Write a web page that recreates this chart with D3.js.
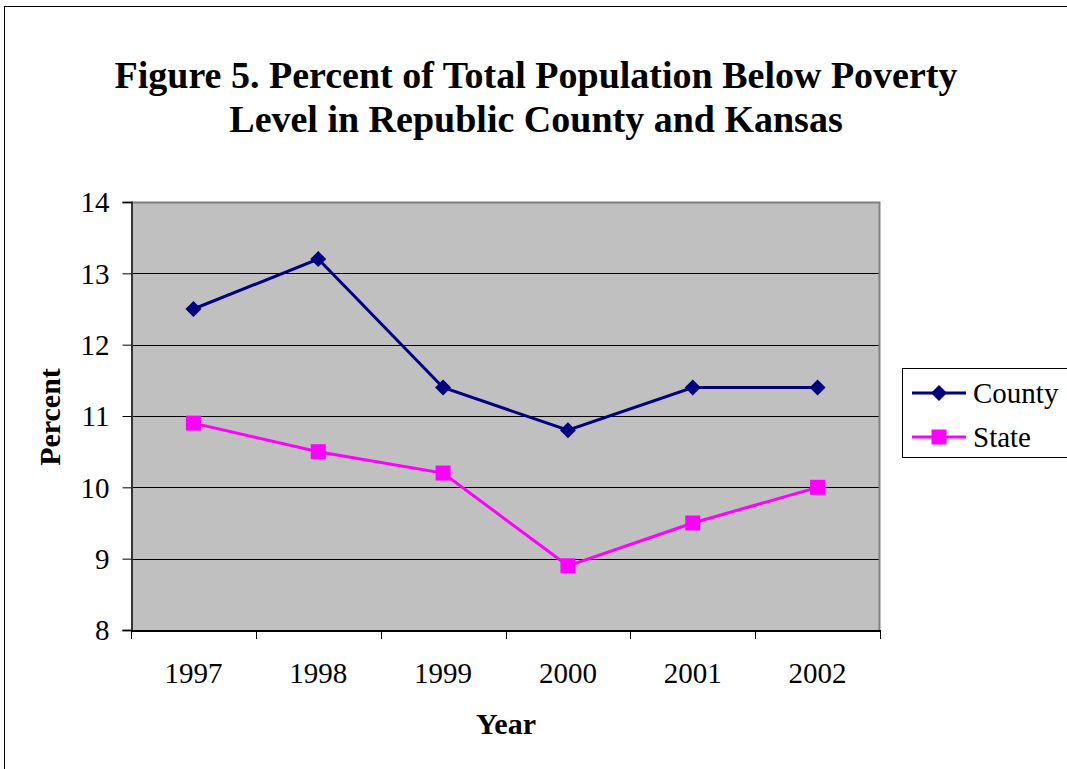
<!DOCTYPE html>
<html><head><meta charset="utf-8">
<script src="https://cdn.jsdelivr.net/npm/d3@7/dist/d3.min.js"></script>
<style>body{margin:0;background:#fff}svg{display:block}</style>
</head><body>
<svg id="c" width="1067" height="769"></svg>
<script>
const years = ["1997","1998","1999","2000","2001","2002"];
const county = [12.5, 13.2, 11.4, 10.8, 11.4, 11.4];
const state = [10.9, 10.5, 10.2, 8.9, 9.5, 10.0];
const yTicks = [8, 9, 10, 11, 12, 13, 14];
const titleLines = ["Figure 5. Percent of Total Population Below Poverty", "Level in Republic County and Kansas"];
const seriesNames = ["County", "State"];

const svg = d3.select("#c");
const font = "'Liberation Serif','Times New Roman',serif";
const L = 131, R = 880, T = 202, B = 630;

svg.append("rect").attr("x",4.5).attr("y",6.5).attr("width",1100).attr("height",800)
  .attr("fill","#fff").attr("stroke","#000").attr("stroke-width",1);

const x = d3.scaleBand().domain(years).range([L, R]);
const y = d3.scaleLinear().domain([8, 14]).range([B, T]);

svg.append("rect").attr("x",L).attr("y",T).attr("width",R-L).attr("height",B-T).attr("fill","#c0c0c0");

// gridlines
svg.append("g").selectAll("line").data(yTicks.filter(d=>d>8 && d<14)).join("line")
  .attr("x1",L).attr("x2",R).attr("y1",d=>Math.round(y(d))+0.5).attr("y2",d=>Math.round(y(d))+0.5)
  .attr("stroke","#000").attr("stroke-width",1);

// plot border (top & right gray)
svg.append("path").attr("d",`M${L},${T+0.5}H${R-0.5}V${B}`).attr("fill","none").attr("stroke","#808080").attr("stroke-width",2);

// y axis
const yAxis = d3.axisLeft(y).tickValues(yTicks).tickFormat(d3.format("d")).tickSize(9).tickPadding(13);
const gy = svg.append("g").attr("transform",`translate(${L+0.5},0)`).call(yAxis);
gy.attr("font-family",font).attr("font-size",29);
gy.select(".domain").attr("stroke","#333").attr("stroke-width",2);
gy.selectAll(".tick line").attr("stroke","#000");
gy.selectAll(".tick text").attr("fill","#000").attr("dy","0.34em");

// x axis
const xAxis = d3.axisBottom(x).tickSize(0).tickPadding(32);
const gx = svg.append("g").attr("transform",`translate(0,${B+0.5})`).call(xAxis);
gx.attr("font-family",font).attr("font-size",29);
gx.select(".domain").attr("stroke","#000").attr("stroke-width",2);
gx.selectAll(".tick text").attr("fill","#000");
const bounds = years.map(d=>x(d)).concat([R]);
svg.append("g").selectAll("line").data(bounds).join("line")
  .attr("x1",d=>Math.round(d)+0.5).attr("x2",d=>Math.round(d)+0.5).attr("y1",B).attr("y2",B+9)
  .attr("stroke","#000").attr("stroke-width",1);

// lines
const cx = d => x(d) + x.bandwidth()/2;
const line = d3.line().x((d,i)=>cx(years[i])).y(d=>y(d));
svg.append("path").datum(county).attr("d",line).attr("fill","none").attr("stroke","#000080").attr("stroke-width",3);
svg.append("path").datum(state).attr("d",line).attr("fill","none").attr("stroke","#ff00ff").attr("stroke-width",3);

const diamond = (px,py,s) => `M${px},${py-s}L${px+s},${py}L${px},${py+s}L${px-s},${py}Z`;
svg.append("g").selectAll("path").data(county).join("path")
  .attr("d",(d,i)=>diamond(cx(years[i]), y(d), 8)).attr("fill","#000080");
svg.append("g").selectAll("rect").data(state).join("rect")
  .attr("x",(d,i)=>cx(years[i])-7.5).attr("y",d=>y(d)-7.5).attr("width",15).attr("height",15).attr("fill","#ff00ff");

// title
svg.append("g").selectAll("text").data(titleLines).join("text")
  .attr("x",536).attr("y",(d,i)=>88+i*44).attr("text-anchor","middle")
  .attr("font-family",font).attr("font-weight","bold").attr("font-size",38).attr("fill","#000").text(d=>d);

// axis titles
svg.append("text").attr("x",506).attr("y",734).attr("text-anchor","middle")
  .attr("font-family",font).attr("font-weight","bold").attr("font-size",30).text("Year");
svg.append("text").attr("transform","translate(60,417) rotate(-90)").attr("text-anchor","middle")
  .attr("font-family",font).attr("font-weight","bold").attr("font-size",30).text("Percent");

// legend
svg.append("rect").attr("x",902.5).attr("y",368.5).attr("width",170).attr("height",89)
  .attr("fill","#fff").attr("stroke","#000").attr("stroke-width",1);
const legY = [393, 437];
const colors = ["#000080", "#ff00ff"];
const lg = svg.append("g").selectAll("g").data(seriesNames).join("g");
lg.append("line").attr("x1",912).attr("x2",966).attr("y1",(d,i)=>legY[i]).attr("y2",(d,i)=>legY[i])
  .attr("stroke",(d,i)=>colors[i]).attr("stroke-width",3);
lg.filter((d,i)=>i===0).append("path").attr("d",diamond(939, legY[0], 8)).attr("fill",colors[0]);
lg.filter((d,i)=>i===1).append("rect").attr("x",939-7.5).attr("y",legY[1]-7.5).attr("width",15).attr("height",15).attr("fill",colors[1]);
lg.append("text").attr("x",973).attr("y",(d,i)=>legY[i]+10).attr("font-family",font).attr("font-size",29).text(d=>d);
</script>
</body></html>
